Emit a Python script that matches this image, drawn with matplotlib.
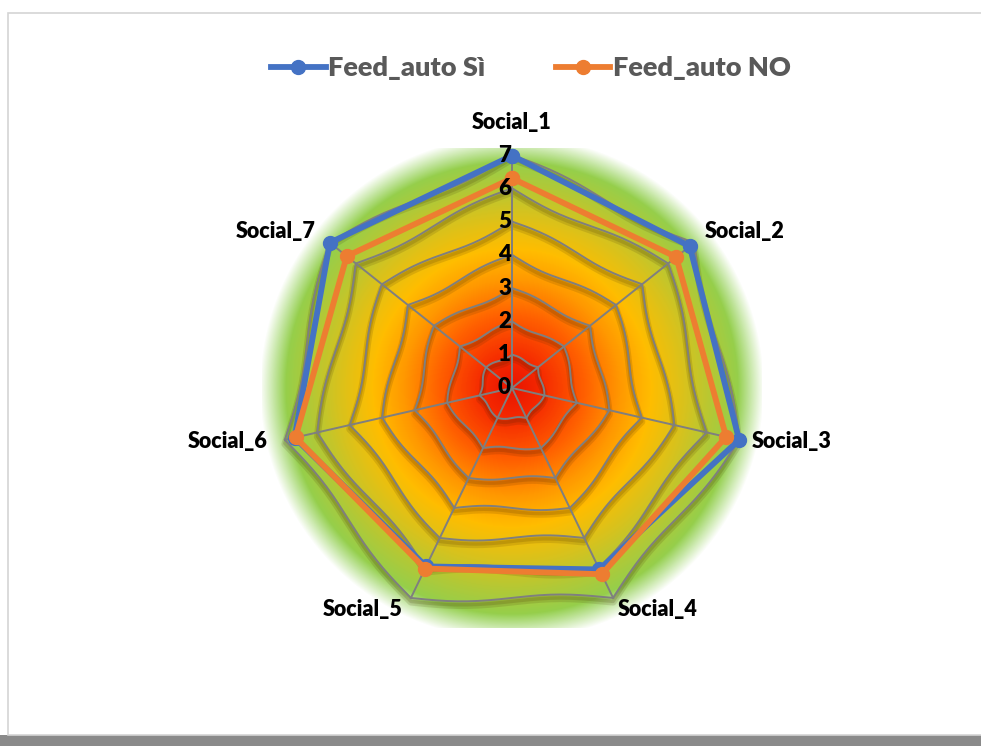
import numpy as np
import matplotlib
matplotlib.use("Agg")
import matplotlib.pyplot as plt
import matplotlib.patheffects as pe
from matplotlib.colors import LinearSegmentedColormap
from matplotlib.lines import Line2D
from matplotlib.patches import Rectangle

plt.rcParams['font.family'] = ['Lato', 'DejaVu Sans']

categorie = ["Social_1", "Social_2", "Social_3", "Social_4", "Social_5", "Social_6", "Social_7"]
feed_si = [6.98, 6.83, 7.0, 6.05, 5.95, 6.7, 7.0]
feed_no = [6.3, 6.31, 6.6, 6.21, 6.02, 6.67, 6.35]
livelli = [0, 1, 2, 3, 4, 5, 6, 7]

W, H = 981, 746
cx, cy, R7 = 512, 388, 233   # centro e raggio (pixel) del valore 7

fig = plt.figure(figsize=(W / 100, H / 100), dpi=100)
fig.patch.set_facecolor("white")

# cornice con ombra
fondo = fig.add_axes([0, 0, 1, 1], zorder=-5)
fondo.set_xlim(0, W)
fondo.set_ylim(H, 0)
fondo.set_axis_off()
fondo.add_patch(Rectangle((0, H - 11), W, 11, facecolor="#8a8a8a", edgecolor="none"))
fondo.add_patch(Rectangle((8, 13), W, H - 13 - 11, facecolor="white", edgecolor="#d4d4d4", lw=1.2))

# sfondo a gradiente radiale
bx0, bx1, by0, by1 = 262, 762, 148, 628
bg = fig.add_axes([bx0 / W, (H - by1) / H, (bx1 - bx0) / W, (by1 - by0) / H], zorder=-2)
xx, yy = np.meshgrid(np.arange(bx0, bx1) + 0.5, np.arange(by0, by1) + 0.5)
d = np.hypot(xx - cx, yy - cy)
cmap = LinearSegmentedColormap.from_list("heat", [
    (0.0, "#e81500"), (0.12, "#f52800"), (0.3, "#ff5f00"), (0.45, "#ff9800"),
    (0.58, "#ffbd00"), (0.72, "#d9c21c"), (0.85, "#b0c938"), (0.95, "#94cf4c"), (1.0, "#90d050")])
rgba = cmap(np.clip(d / (R7 * 1.03), 0, 1))
rgba[..., 3] = np.clip((252 - d) / 26, 0, 1)
bg.imshow(rgba, extent=(bx0, bx1, by1, by0), aspect="auto", interpolation="bilinear")
bg.set_axis_off()

# radar
ax = fig.add_axes([(cx - R7) / W, (H - cy - R7) / H, 2 * R7 / W, 2 * R7 / H], projection="polar")
ax.set_theta_zero_location("N")
ax.set_theta_direction(-1)
ax.set_ylim(0, 7)
ax.set_axis_off()

n = len(categorie)
ang = np.arange(n) * 2 * np.pi / n

ombra = [pe.SimpleLineShadow(offset=(0, -3), shadow_color="#3a2000", alpha=0.13, rho=1, linewidth=5),
         pe.SimpleLineShadow(offset=(0, -2.5), shadow_color="#3a2000", alpha=0.15, rho=1, linewidth=2.5),
         pe.Normal()]

# anelli della griglia, leggermente ondulati
t = np.linspace(0, 1, 40)
for k in livelli[1:]:
    th_all, r_all = [], []
    for i in range(n):
        a0, a1 = ang[i], ang[i] + 2 * np.pi / n
        p0 = np.array([np.sin(a0), np.cos(a0)]) * k
        p1 = np.array([np.sin(a1), np.cos(a1)]) * k
        pts = p0[None, :] * (1 - t[:, None]) + p1[None, :] * t[:, None]
        rr = np.hypot(pts[:, 0], pts[:, 1])
        th = np.arctan2(pts[:, 0], pts[:, 1])
        amp = 0.015 + 0.013 * k
        rr = rr + amp * np.sin(2 * np.pi * t) * (1 if (i + k) % 2 else -1)
        th_all.append(th)
        r_all.append(rr)
    ax.plot(np.concatenate(th_all), np.concatenate(r_all), color="#7f7f7f", lw=1.4,
            path_effects=ombra, zorder=2, clip_on=False)

for a in ang:
    ax.plot([a, a], [0, 7], color="#7f7f7f", lw=1.4, zorder=2, clip_on=False)

# serie
for vals, col in [(feed_si, "#4472c4"), (feed_no, "#ed7d31")]:
    v = list(vals) + [vals[0]]
    a = list(ang) + [ang[0]]
    ax.plot(a, v, color=col, lw=4.2, marker="o", markersize=10, zorder=4, clip_on=False)

# etichette dell'asse
for k in livelli:
    ax.annotate(str(k), xy=(0, k), xytext=(-1, 0), textcoords="offset pixels",
                ha="right", va="center", fontsize=16, fontweight="heavy", color="black", zorder=5)

off = [(0, 33, "center"), (11, 11, "left"), (13, -2, "left"), (5, -12, "left"),
       (-8, -12, "right"), (-17, -2, "right"), (-14, 11, "right")]
for a, nome, (dx, dy, ha) in zip(ang, categorie, off):
    ax.annotate(nome, xy=(a, 7), xytext=(dx, dy), textcoords="offset pixels",
                ha=ha, va="center", fontsize=15.5, fontweight="heavy", color="black",
                annotation_clip=False, zorder=5)

# legenda
handles = [Line2D([], [], color="#4472c4", lw=4.2, marker="o", markersize=10),
           Line2D([], [], color="#ed7d31", lw=4.2, marker="o", markersize=10)]
leg = fig.legend(handles, ["Feed_auto Sì", "Feed_auto NO"], loc="center",
                 bbox_to_anchor=(531 / W, 1 - 68 / H), ncol=2, frameon=False,
                 handlelength=2.0, handletextpad=0.1, columnspacing=2.6,
                 prop={"size": 19.5, "weight": "heavy"})
for txt in leg.get_texts():
    txt.set_color("#595959")

fig.savefig("out.png", dpi=100)
